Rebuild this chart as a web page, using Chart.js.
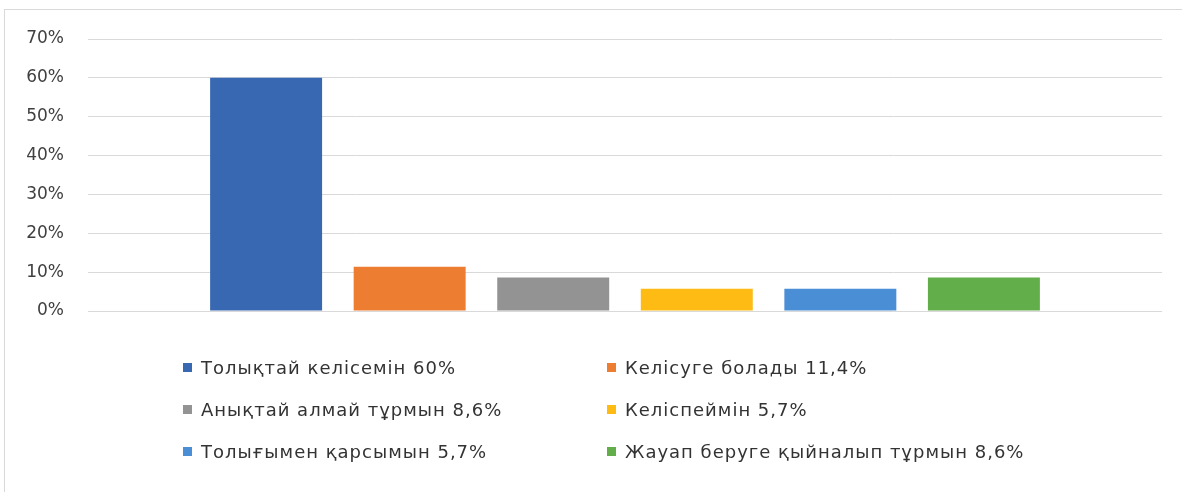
<!DOCTYPE html>
<html lang="kk">
<head>
    <meta charset="UTF-8">
    <title>Сауалнама нәтижесі</title>
    <script src="https://cdn.jsdelivr.net/npm/chart.js"></script>
    <style>
        html, body { margin: 0; background: #fff; font-family: "DejaVu Sans", sans-serif; overflow: hidden; }
        .wrap { position: relative; width: 1182px; height: 492px; overflow: hidden; }
        .edge-top { position: absolute; left: 4px; top: 9px; width: 1178px; height: 1px; background: #d9d9d9; }
        .edge-left { position: absolute; left: 4px; top: 9px; width: 1px; height: 483px; background: #d9d9d9; }
        canvas { position: absolute; left: 0; top: 0; }
        #legend { position: absolute; left: 183px; top: 346px; display: grid; grid-template-columns: 424px 424px; grid-auto-rows: 42px; }
        .li { display: flex; align-items: center; font-size: 18px; letter-spacing: 1px; color: #333; white-space: nowrap; }
        .li i { display: inline-block; width: 9px; height: 9px; margin-right: 9px; }
    </style>
</head>
<body>
<div class="wrap">
    <div class="edge-top"></div>
    <div class="edge-left"></div>
    <canvas id="chart" width="1182" height="492"></canvas>
    <div id="legend"></div>
</div>

<script>
    // данные
    const labels = ['Толықтай келісемін 60%', 'Келісуге болады 11,4%', 'Анықтай алмай тұрмын 8,6%',
                    'Келіспеймін 5,7%', 'Толығымен қарсымын 5,7%', 'Жауап беруге қыйналып тұрмын 8,6%'];
    const values = [0.60, 0.114, 0.086, 0.057, 0.057, 0.086];
    const colors = ['#3868b2', '#ed7d31', '#939393', '#fdbb14', '#4a8fd6', '#62ae4b'];
    const yTicks = [0, 0.1, 0.2, 0.3, 0.4, 0.5, 0.6, 0.7];

    const htmlLegend = {
        id: 'htmlLegend',
        afterUpdate(chart) {
            const box = document.getElementById('legend');
            box.innerHTML = '';
            chart.data.datasets.forEach(ds => {
                const row = document.createElement('div');
                row.className = 'li';
                row.innerHTML = '<i style="background:' + ds.backgroundColor + '"></i>' + ds.label;
                box.appendChild(row);
            });
        }
    };

    new Chart(document.getElementById('chart'), {
        type: 'bar',
        data: {
            labels: [''],
            datasets: labels.map((l, i) => ({ label: l, data: [values[i]], backgroundColor: colors[i] }))
        },
        options: {
            responsive: false,
            animation: false,
            layout: { padding: { top: 39, right: 20, bottom: 181, left: 0 } },
            datasets: { bar: { categoryPercentage: 0.802, barPercentage: 0.78 } },
            plugins: { legend: { display: false }, tooltip: { enabled: false } },
            scales: {
                x: { display: false },
                y: {
                    min: 0, max: 0.7,
                    afterBuildTicks: s => { s.ticks = yTicks.map(v => ({ value: v })); },
                    afterFit: s => { s.width = 88; },
                    border: { display: false },
                    grid: { color: '#d9d9d9', drawTicks: false },
                    ticks: {
                        padding: 24, color: '#404040',
                        font: { family: 'DejaVu Sans', size: 17 },
                        callback: v => Math.round(v * 100) + '%'
                    }
                }
            }
        },
        plugins: [htmlLegend]
    });
</script>
</body>
</html>
